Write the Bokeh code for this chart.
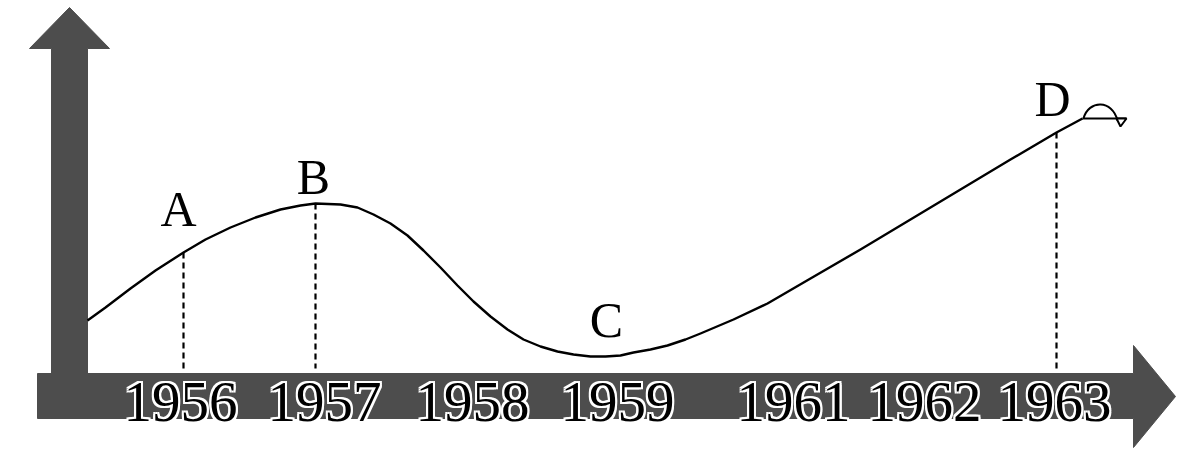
from bokeh.plotting import figure
from bokeh.models import Range1d, ColumnDataSource
from bokeh.core.properties import value
from bokeh.embed import file_html
from bokeh.resources import INLINE

# ---- data (timeline position, level) ----
years = ["1956", "1957", "1958", "1959", "1961", "1962", "1963"]
year_pos = [180, 324, 472, 617, 793, 924, 1054]

curve_x = [87, 105, 130, 155, 183, 205, 230, 255, 280, 300, 315, 340, 357, 373, 390,
           407, 423, 440, 457, 473, 490, 507, 523, 540, 557, 573, 590, 605, 620, 633,
           650, 667, 685, 700, 733, 767, 810, 860, 910, 960, 1010, 1056, 1082]
curve_y = [131, 144, 163, 181, 199, 212, 224, 234, 242, 246, 248, 247, 244, 237, 228,
           216, 201, 184, 166, 150, 135, 122, 112, 105, 100, 97, 95, 95, 96, 99,
           102, 106, 112, 118, 132, 148, 173, 202, 232, 262, 292, 319, 333]

point_names = ["A", "B", "C", "D"]
point_label_x = [178, 313, 606, 1052]
point_label_y = [243, 275, 132, 353]

drop_x = [183, 315, 1056]
drop_top = [199, 248, 319]
drop_bottom = [83, 83, 83]

# ---- figure ----
p = figure(width=1190, height=451, output_backend="svg", toolbar_location=None,
           x_range=Range1d(0, 1190), y_range=Range1d(0, 451), min_border=0)
p.axis.visible = False
p.grid.visible = False
p.outline_line_color = None
p.background_fill_color = "white"
p.border_fill_color = "white"

arrow_col = "#4d4d4d"
# horizontal arrow (time axis)
p.patch([37, 1133, 1133, 1175, 1133, 1133, 37], [78, 78, 106, 55, 4, 33, 33],
        fill_color=arrow_col, line_color=arrow_col, line_width=1)
# vertical arrow
p.patch([51, 51, 29, 69, 109, 87, 87], [33, 403, 403, 444, 403, 403, 33],
        fill_color=arrow_col, line_color=arrow_col, line_width=1)

# curve
p.line(curve_x, curve_y, line_color="black", line_width=2.4, line_join="round")

# flourish at the end of the curve
end_x, end_y = curve_x[-1], curve_y[-1]
p.segment(x0=[end_x], y0=[end_y], x1=[end_x + 44], y1=[end_y], line_color="black", line_width=2)
p.bezier(x0=[end_x + 1], y0=[end_y], x1=[end_x + 35], y1=[end_y - 2],
         cx0=[end_x + 6], cy0=[end_y + 19], cx1=[end_x + 30], cy1=[end_y + 19],
         line_color="black", line_width=2)
p.patch([end_x + 34, end_x + 38, end_x + 44], [end_y, end_y - 8, end_y],
        fill_color="white", line_color="black", line_width=2)

# dashed drop lines
p.segment(x0=drop_x, y0=drop_top, x1=drop_x, y1=drop_bottom,
          line_color="black", line_width=2.2, line_dash="6 4")

# point letters
p.text(x=point_label_x, y=point_label_y, text=point_names,
       text_font=value("Liberation Serif"), text_font_size="50px",
       text_align="center", text_baseline="alphabetic", text_color="black")

# year labels on the arrow: white halo then black text
ysrc = ColumnDataSource(dict(x=year_pos, y=[50] * len(years), t=years))
for dx, dy in [(-2, 0), (2, 0), (0, -2), (0, 2), (-2, -2), (2, 2), (-2, 2), (2, -2)]:
    p.text(x="x", y="y", text="t", source=ysrc, x_offset=dx, y_offset=dy,
           text_font=value("Liberation Serif"), text_font_size="57px",
           text_align="center", text_baseline="alphabetic", text_color="white")
p.text(x="x", y="y", text="t", source=ysrc,
       text_font=value("Liberation Serif"), text_font_size="57px",
       text_align="center", text_baseline="alphabetic", text_color="black")

open("out.html", "w").write(file_html(p, INLINE))
